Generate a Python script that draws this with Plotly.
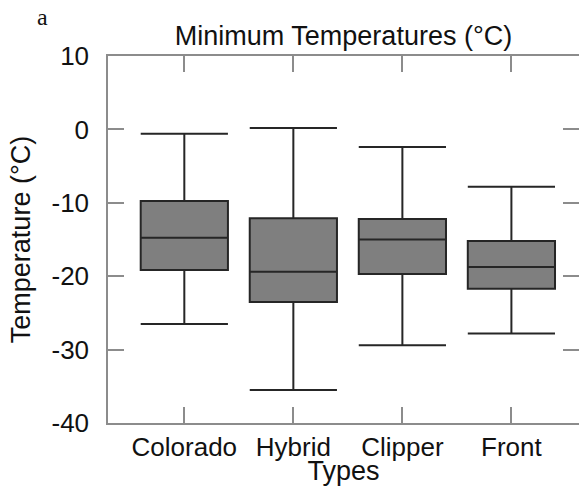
import plotly.graph_objects as go

types = ["Colorado", "Hybrid", "Clipper", "Front"]
upper_whisker = [-0.6, 0.2, -2.4, -7.8]
q3 = [-9.75, -12.1, -12.2, -15.2]
median = [-14.75, -19.4, -15.0, -18.75]
q1 = [-19.15, -23.5, -19.7, -21.7]
lower_whisker = [-26.5, -35.5, -29.4, -27.8]

y_ticks = [-40, -30, -20, -10, 0, 10]
y_tick_labels = [str(v) for v in y_ticks]

FONT = "Liberation Sans, Arial, Helvetica, sans-serif"
TXT = "#111111"

fig = go.Figure()
fig.add_trace(go.Box(
    x=types,
    q1=q1, median=median, q3=q3,
    lowerfence=lower_whisker, upperfence=upper_whisker,
    boxpoints=False,
    width=0.8,
    whiskerwidth=1,
    fillcolor="#7f7f7f",
    line=dict(color="#262626", width=2),
    hoverinfo="y",
    showlegend=False,
))
# invisible helper trace so the right-hand tick axis is drawn
fig.add_trace(go.Scatter(x=types, y=median, yaxis="y2", mode="none",
                         hoverinfo="skip", showlegend=False))

GRAY = "#8c8c8c"
tick_common = dict(ticks="inside", ticklen=16, tickwidth=1.5, tickcolor=GRAY,
                   showgrid=False, zeroline=False)

fig.update_layout(
    width=579, height=486,
    margin=dict(l=108, r=0, t=56, b=63),
    paper_bgcolor="white", plot_bgcolor="white",
    font=dict(family=FONT, color=TXT),
    title=dict(text="Minimum Temperatures (°C)", font=dict(family=FONT, size=27, color=TXT),
               x=0.5, xanchor="center", xref="paper",
               y=1 - 36 / 486, yanchor="middle", yref="container"),
    xaxis=dict(tick_common, type="category", range=[-0.7, 3.62],
               showline=True, linecolor=GRAY, linewidth=1.5, mirror="ticks",
               tickfont=dict(family=FONT, size=26, color=TXT),
               title=dict(text="Types", font=dict(family=FONT, size=27, color=TXT), standoff=0),
               ticklabelstandoff=0),
    yaxis=dict(tick_common, range=[-40, 10], tickvals=y_ticks, ticktext=y_tick_labels,
               showline=True, linecolor=GRAY, linewidth=1.5, mirror=False,
               tickfont=dict(family=FONT, size=26, color=TXT),
               title=dict(text="Temperature (°C)", font=dict(family=FONT, size=27, color=TXT), standoff=13),
               ticklabelstandoff=12),
    yaxis2=dict(tick_common, range=[-40, 10], tickvals=y_ticks, overlaying="y", side="right",
                showline=False, showticklabels=False),
    annotations=[dict(text="a", xref="paper", yref="paper", x=-0.14, y=1.105,
                      xanchor="center", yanchor="middle", showarrow=False,
                      font=dict(family="Liberation Serif, Times New Roman, serif", size=24, color=TXT))],
)

fig.write_html("out.html")
